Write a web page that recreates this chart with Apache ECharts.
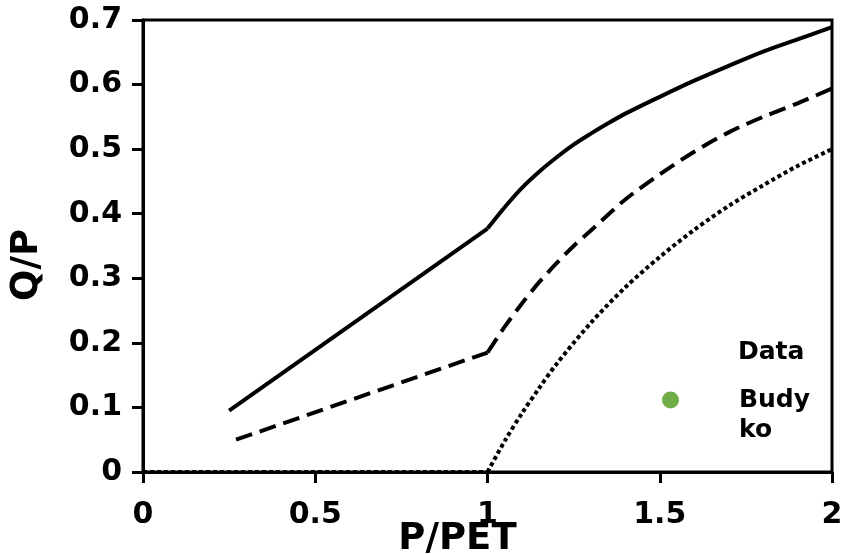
<!DOCTYPE html>
<html>
<head>
<meta charset="utf-8">
<script src="https://cdn.jsdelivr.net/npm/echarts@6/dist/echarts.min.js"></script>
<style>
  html, body { margin: 0; padding: 0; background: #fff; }
  #chart { width: 845px; height: 554px; }
</style>
</head>
<body>
<div id="chart"></div>
<script>
// curves, [P/PET, Q/P]
const solidCurve = [
  [0.25, 0.095], [1.0, 0.377], [1.05, 0.41], [1.1, 0.44], [1.15, 0.465],
  [1.2, 0.487], [1.25, 0.507], [1.3, 0.524], [1.35, 0.540], [1.4, 0.555],
  [1.5, 0.581], [1.6, 0.606], [1.7, 0.629], [1.8, 0.651], [1.9, 0.670], [2.0, 0.689]
]
const dashedCurve = [
  [0.27, 0.05], [1.0, 0.185], [1.05, 0.225], [1.1, 0.261], [1.15, 0.294],
  [1.2, 0.323], [1.25, 0.350], [1.3, 0.374], [1.4, 0.422], [1.5, 0.461],
  [1.6, 0.496], [1.7, 0.526], [1.8, 0.550], [1.9, 0.571], [2.0, 0.594]
]
const dottedCurve = [
  [0, 0], [1.0, 0], [1.05, 0.048], [1.1, 0.091], [1.15, 0.13], [1.2, 0.167],
  [1.3, 0.231], [1.4, 0.286], [1.5, 0.333], [1.6, 0.375], [1.7, 0.412],
  [1.8, 0.444], [1.9, 0.474], [2.0, 0.5]
]
const budykoPoints = []

const font = 'DejaVu Sans'
const chart = echarts.init(document.getElementById('chart'))

// straight part up to P/PET = 1, smooth bend after it
function curveSeries(data, type) {
  const style = { color: '#000', width: 4, type }
  const base = { type: 'line', showSymbol: false, silent: true, clip: false, z: 3 }
  return [
    { ...base, data: data.filter(p => p[0] <= 1), lineStyle: style },
    { ...base, data: data.filter(p => p[0] >= 1), smooth: 0.3, lineStyle: style }
  ]
}

chart.setOption({
  animation: false,
  title: {
    text: 'Data',
    left: 738,
    top: 340,
    padding: 0,
    textStyle: { fontFamily: font, fontWeight: 'bold', fontSize: 25, color: '#000' }
  },
  legend: {
    left: 662,
    top: 355,
    padding: 0,
    icon: 'circle',
    itemWidth: 17,
    itemHeight: 17,
    data: ['Budyko'],
    formatter: name => '\n' + name,
    textStyle: {
      fontFamily: font,
      fontWeight: 'bold',
      fontSize: 25,
      color: '#000',
      width: 75,
      overflow: 'breakAll',
      lineHeight: 30,
      padding: [0, 0, 0, 55]
    }
  },
  grid: {
    left: 143, right: 13, top: 20, bottom: 82,
    outerBoundsMode: 'none',
    show: true, borderColor: '#000', borderWidth: 3
  },
  xAxis: {
    type: 'value',
    min: 0, max: 2, interval: 0.5,
    name: 'P/PET',
    nameLocation: 'middle',
    nameGap: 49,
    nameMoveOverlap: false,
    nameTextStyle: { fontFamily: font, fontWeight: 'bold', fontSize: 37, color: '#000', padding: [0, 60, 0, 0] },
    axisLine: { lineStyle: { color: '#000', width: 3 } },
    axisTick: { length: 11, lineStyle: { color: '#000', width: 3 } },
    axisLabel: { margin: 28, fontFamily: font, fontWeight: 'bold', fontSize: 30, color: '#000' },
    splitLine: { show: false }
  },
  yAxis: {
    type: 'value',
    min: 0, max: 0.7, interval: 0.1,
    name: 'Q/P',
    nameLocation: 'middle',
    nameGap: 97,
    nameMoveOverlap: false,
    nameTextStyle: { fontFamily: font, fontWeight: 'bold', fontSize: 37, color: '#000', padding: [0, 38, 0, 0] },
    axisLine: { lineStyle: { color: '#000', width: 3 } },
    axisTick: { length: 11, lineStyle: { color: '#000', width: 3 } },
    axisLabel: { margin: 21, fontFamily: font, fontWeight: 'bold', fontSize: 30, color: '#000' },
    splitLine: { show: false }
  },
  series: [
    ...curveSeries(solidCurve, 'solid'),
    ...curveSeries(dashedCurve, [17, 8]),
    ...curveSeries(dottedCurve, [4, 3]),
    {
      name: 'Budyko',
      type: 'scatter',
      data: budykoPoints,
      symbolSize: 17,
      itemStyle: { color: '#70ad47', opacity: 1 }
    }
  ]
})
</script>
</body>
</html>
